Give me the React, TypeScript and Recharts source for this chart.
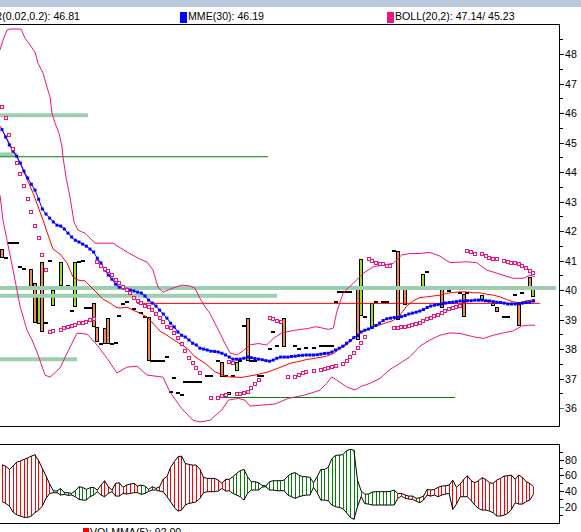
import React from "react";
import { ComposedChart, Line, Bar, Scatter, XAxis, YAxis, Cell } from "recharts";

// ---- daily price series (day index 0..145) ----
const opens: (number | null)[] = [
  41.39, 41.08, 41.59, 41.59, 41.59, 40.77, 40.73, 40.08, 40.70, 40.23,
  38.87, 40.94, 38.90, 40.99, 39.49, null, 40.11, 40.11, 40.15, 39.30,
  39.40, 40.96, 40.98, 39.39, 39.39, 39.56, 38.75, 38.17, 38.71, 39.05,
  38.17, 38.20, 39.07, 39.54, 39.60, null, 39.35, null, 39.19, 39.10,
  39.08, 37.59, 37.59, 37.59, 37.59, 37.73, 36.54, 37.02, 36.51, 36.44,
  36.89, 36.89, 36.89, 36.89, 36.89, null, 37.10, 37.10, null, 37.60,
  37.56, 37.10, 36.56, 37.10, 37.23, 37.60, 38.79, 39.06, 37.60, 37.60,
  37.10, 37.10, null, 38.02, 38.59, 38.10, null, 39.05, null, null,
  38.11, 38.00, null, 38.03, null, 38.06, null, 38.11, 38.11, 38.11,
  38.11, 39.60, 39.94, 39.94, 39.94, 39.94, 40.08, 40.03, 39.10, 39.10,
  null, 38.70, 39.60, null, 39.60, 39.60, 40.08, 41.33, 41.33, null,
  40.03, 40.06, 40.06, 40.06, null, 40.06, 40.60, 40.06, null, 40.06,
  40.03, null, 39.98, 40.06, 40.06, 39.91, 39.86, 39.91, 40.06, null,
  null, 39.66, 39.63, 39.63, 39.57, 39.43, null, 39.10, 39.10, null,
  39.83, 39.55, 39.91, 40.06, 40.43, 39.77,
];

const closes: (number | null)[] = [
  41.08, 41.08, 41.59, 41.59, 41.59, 40.77, 40.73, 40.08, 40.08, 38.87,
  39.85, 38.57, 38.90, 40.99, 40.02, null, 40.94, 40.11, 40.15, 39.30,
  40.94, 40.96, 40.98, 39.39, 39.39, 38.75, 38.24, 38.17, 38.17, 38.17,
  38.17, 38.20, 39.15, 39.54, 39.60, null, 39.35, null, 39.26, 39.10,
  37.59, 37.59, 37.59, 37.59, 37.59, 37.73, 36.54, 37.02, 36.51, 36.44,
  36.89, 36.89, 36.89, 36.89, 36.89, null, 37.10, 37.10, null, 37.60,
  37.05, 37.10, 36.47, 37.10, 37.55, 37.60, 38.79, 37.59, 37.60, 37.60,
  37.10, 37.10, null, 38.02, 38.59, 38.10, null, 38.08, null, null,
  38.11, 38.00, null, 38.03, null, 37.99, null, 38.11, 38.11, 38.11,
  38.11, 39.60, 39.94, 39.94, 39.94, 39.94, 40.08, 38.30, 41.04, 39.10,
  null, 39.55, 39.60, null, 39.60, 39.60, 40.08, 41.33, 38.98, null,
  39.49, 40.06, 40.06, 40.06, null, 40.54, 40.60, 40.06, null, 40.06,
  39.38, null, 39.98, 40.06, 40.06, 39.91, 39.07, 39.91, 40.06, null,
  null, 39.83, 39.63, 39.63, 39.46, 39.26, null, 39.10, 39.10, null,
  39.83, 38.78, 39.91, 40.06, 40.06, 40.03,
];

// SAR(0.02,0.2)
const sarValues: (number | null)[] = [
  46.20, 45.83, 45.25, 44.78, 44.31, 43.93, 43.53, 43.08, 42.64, 42.17,
  41.76, 41.19, 40.68, 38.58, 38.63, null, 38.64, 38.70, 38.74, 38.78,
  38.81, 38.87, 38.90, 38.93, 38.97, 39.02, 40.95, 40.81, 40.73, 40.64,
  40.51, 40.34, 40.24, 40.10, 40.00, 39.90, 39.73, 39.64, 39.56, 39.46,
  39.42, 39.32, 39.19, 39.05, 38.92, 38.75, 38.71, 38.54, 38.37, 38.17,
  37.93, 37.69, 37.53, 37.35, 37.20, null, null, 36.35, null, 36.35,
  36.41, 36.44, 37.55, 37.52, 36.47, 36.47, 36.52, 36.55, 36.67, 36.81,
  36.95, null, null, 39.05, 39.02, 38.95, 38.92, null, 37.04, null,
  37.05, 37.12, 37.19, 37.22, null, 37.25, null, 37.29, 37.32, 37.36,
  37.39, 37.42, null, 37.49, 37.59, 37.73, 37.86, 38.03, 38.20, 38.41,
  41.04, 40.99, 40.93, 40.90, 40.87, 40.82, 40.82, 38.70, 38.72, 38.74,
  38.76, 38.78, 38.81, 38.84, 38.89, 38.96, 39.02, 39.07, 39.13, 39.15,
  39.23, 39.30, 39.36, 39.40, 39.43, 39.46, null, 41.33, 41.28, 41.24,
  null, 41.21, 41.15, 41.09, 41.05, 41.04, null, 40.99, 40.94, 40.92,
  40.91, 40.87, 40.82, 40.76, 40.65, 40.57,
];

// MME(30)
const mmeValues: number[] = [
  45.44, 45.19, 44.92, 44.71, 44.54, 44.31, 44.03, 43.80, 43.59, 43.39,
  43.08, 42.75, 42.58, 42.44, 42.31, 42.20, 42.17, 42.07, 41.93, 41.80,
  41.69, 41.63, 41.56, 41.49, 41.39, 41.29, 41.08, 40.92, 40.68, 40.51,
  40.37, 40.20, 40.10, 40.07, 40.03, 40.00, 39.97, 39.93, 39.90, 39.80,
  39.66, 39.56, 39.46, 39.32, 39.19, 39.05, 38.88, 38.75, 38.58, 38.47,
  38.41, 38.31, 38.20, 38.14, 38.03, 38.00, 37.97, 37.93, 37.92, 37.90,
  37.86, 37.80, 37.73, 37.66, 37.66, 37.66, 37.69, 37.73, 37.71, 37.68,
  37.66, 37.64, 37.61, 37.59, 37.63, 37.69, 37.73, 37.73, 37.73, 37.75,
  37.76, 37.78, 37.79, 37.80, 37.80, 37.80, 37.81, 37.83, 37.85, 37.86,
  37.90, 37.97, 38.03, 38.10, 38.20, 38.29, 38.39, 38.46, 38.58, 38.64,
  38.68, 38.73, 38.80, 38.88, 38.97, 39.03, 39.05, 39.07, 39.08, 39.10,
  39.14, 39.19, 39.22, 39.25, 39.29, 39.34, 39.41, 39.46, 39.49, 39.51,
  39.53, 39.56, 39.58, 39.59, 39.61, 39.63, 39.63, 39.64, 39.64, 39.66,
  39.66, 39.66, 39.64, 39.63, 39.61, 39.59, 39.58, 39.56, 39.53, 39.53,
  39.53, 39.54, 39.56, 39.58, 39.59, 39.63,
];

// short moving average (red), vertices as [day, value]
const maPoints: [number, number][] = [
  [-0.55, 45.56], [4.91, 44.31], [8.46, 43.29], [11.19, 42.37], [12.28, 41.97],
  [13.92, 41.39], [15.83, 41.22], [17.74, 40.92], [19.37, 40.44], [20.74, 40.34],
  [22.65, 40.31], [24.01, 40.14], [25.92, 39.9], [27.56, 39.69], [29.47, 39.56],
  [31.11, 39.42], [32.2, 39.39], [34.11, 39.42], [35.74, 39.32], [37.65, 39.22],
  [39.56, 39.08], [41.2, 38.88], [43.11, 38.61], [45.02, 38.47], [47.75, 38.24],
  [50.48, 38.03], [52.66, 37.74], [55.39, 37.52], [58.12, 37.23], [61.75, 37.06],
  [65.4, 37.04], [69.03, 37.12], [72.66, 37.23], [76.32, 37.4], [78.58, 37.52],
  [81.31, 37.59], [83.14, 37.65], [84.94, 37.68], [86.77, 37.72], [88.59, 37.76],
  [90.39, 37.85], [92.22, 38.02], [94.05, 38.14], [95.85, 38.36], [97.68, 38.58],
  [101.31, 38.75], [104.04, 38.86], [106.77, 38.97], [108.6, 39.15], [110.42, 39.46],
  [112.22, 39.64], [114.05, 39.75], [115.88, 39.77], [117.68, 39.8], [119.5, 39.83],
  [121.34, 39.89], [123.14, 39.92], [124.97, 39.94], [126.79, 39.94], [128.6, 39.91],
  [130.42, 39.91], [132.25, 39.86], [134.05, 39.83], [135.88, 39.77], [137.71, 39.68],
  [139.51, 39.6], [141.34, 39.57], [143.17, 39.64], [145.43, 39.68],
];

// BOLL(20,2) upper band
const bollUpper: [number, number][] = [
  [-0.55, 48.14], [0.27, 48.47], [1.36, 48.81], [2.18, 48.85], [5.18, 48.85],
  [6.28, 48.54], [7.64, 48.31], [9.0, 48.07], [9.82, 47.69], [11.19, 47.36],
  [12.28, 46.88], [13.1, 46.54], [13.64, 46.0], [14.46, 45.66], [15.55, 45.32],
  [16.37, 44.85], [16.64, 44.51], [17.46, 43.83], [18.55, 43.15], [19.65, 42.31],
  [20.74, 42.03], [22.65, 41.93], [25.38, 41.59], [30.29, 41.59], [34.11, 41.29],
  [37.65, 41.05], [39.56, 40.95], [41.2, 40.68], [42.56, 40.1], [43.93, 39.93],
  [46.66, 40.07], [49.11, 40.17], [51.3, 40.14], [52.66, 40.06], [54.02, 39.72],
  [55.39, 39.43], [56.75, 39.21], [58.12, 38.87], [59.48, 38.54], [60.85, 38.19],
  [62.21, 37.87], [64.04, 37.8], [65.4, 37.91], [67.67, 38.14], [69.93, 38.19],
  [72.22, 38.14], [74.02, 38.36], [76.32, 38.55], [79.95, 38.64], [83.57, 38.7],
  [85.4, 38.76], [87.23, 38.72], [89.03, 38.67], [90.4, 38.71], [91.32, 39.25],
  [92.22, 39.59], [93.12, 39.9], [94.05, 40.03], [95.85, 40.23], [98.58, 40.57],
  [101.31, 40.79], [104.04, 40.85], [106.77, 40.91], [109.06, 41.19], [111.32, 41.24],
  [114.05, 41.24], [116.78, 41.28], [119.51, 41.15], [122.24, 40.93], [126.79, 40.96],
  [129.52, 40.93], [132.25, 40.68], [135.88, 40.54], [139.51, 40.4], [142.24, 40.4],
  [144.06, 40.51], [145.43, 40.45],
];

// BOLL(20,2) lower band
const bollLower: [number, number][] = [
  [-0.55, 43.22], [0.27, 42.37], [1.36, 41.69], [2.73, 40.85], [3.82, 40.17],
  [4.91, 39.46], [6.82, 38.64], [8.19, 38.31], [9.55, 37.9], [11.73, 37.12],
  [13.1, 37.05], [15.83, 37.36], [17.74, 37.86], [20.46, 38.54], [23.19, 38.51],
  [25.92, 38.14], [28.65, 37.69], [31.38, 37.19], [34.11, 37.39], [36.83, 37.42],
  [39.56, 37.12], [43.93, 37.05], [45.84, 36.54], [49.11, 35.97], [52.11, 35.59],
  [54.02, 35.53], [56.75, 35.59], [59.95, 35.93], [61.75, 36.27], [64.48, 36.33],
  [66.3, 36.27], [67.67, 36.07], [70.86, 36.1], [74.49, 36.14], [78.12, 36.33],
  [83.14, 36.46], [86.77, 36.61], [88.59, 36.84], [89.96, 37.06], [91.32, 36.95],
  [94.05, 36.72], [96.32, 36.61], [97.68, 36.72], [100.41, 36.84], [103.14, 37.01],
  [105.87, 37.31], [108.6, 37.52], [111.32, 37.74], [114.05, 38.1], [116.78, 38.31],
  [119.51, 38.47], [122.24, 38.55], [124.97, 38.53], [128.6, 38.42], [131.32, 38.36],
  [134.05, 38.47], [136.79, 38.55], [139.51, 38.62], [141.8, 38.78], [143.6, 38.81],
  [145.43, 38.81],
];

// horizontal levels: [level, from day, to day]
const supportBands: [number, number, number][] = [
  [45.93, -0.55, 23.46],
  [44.6, -0.55, 4.09],
  [40.07, -0.55, 151.17],
  [39.81, -0.55, 75.03],
  [37.66, -0.55, 20.46],
];
const greenLevels: [number, number, number][] = [
  [44.52, -0.55, 72.58],
  [36.36, 59.48, 123.6],
];
const redLevels: [number, number, number][] = [[39.55, 36.83, 146.8]];

// volume envelope (upper / lower edge) and hatch colour runs
const volHigh: number[] = [
  73.5, 71.8, 67.6, 71.8, 76.9, 78.2, 80.3, 82.0, 84.6, 86.3,
  78.6, 68.9, 59.1, 48.9, 40.4, 40.0, 43.4, 37.9, 37.9, 37.0,
  40.4, 45.5, 44.7, 42.1, 44.2, 44.7, 41.3, 47.6, 53.2, 45.5,
  41.3, 49.8, 50.6, 44.7, 47.6, 48.9, 49.8, 46.4, 47.6, 46.4,
  42.1, 45.5, 43.4, 45.5, 55.3, 58.3, 70.2, 77.4, 83.7, 84.6,
  75.2, 74.0, 73.1, 73.1, 67.6, 57.4, 56.1, 56.1, 56.1, 54.0,
  49.8, 54.9, 54.9, 58.3, 62.5, 65.9, 67.6, 58.3, 51.9, 51.9,
  50.6, 47.2, 46.4, 51.9, 53.2, 53.2, 53.2, 54.0, 59.1, 62.5,
  63.4, 60.4, 58.3, 58.3, 57.4, 50.6, 58.3, 67.6, 67.6, 70.2,
  81.2, 85.4, 85.9, 86.3, 91.4, 93.1, 92.2, 54.0, 40.0, 36.0,
  36.2, 38.7, 39.2, 39.2, 39.2, 39.2, 39.6, 41.3, 37.0, 37.0,
  34.9, 33.6, 33.6, 30.7, 31.5, 33.6, 42.1, 41.3, 42.1, 44.7,
  46.4, 46.8, 47.6, 54.0, 44.7, 48.9, 54.9, 59.5, 53.2, 50.6,
  53.2, 57.0, 54.9, 50.6, 49.8, 54.0, 56.1, 59.1, 59.5, 60.4,
  54.9, 60.4, 57.4, 51.9, 49.8, 45.5,
];
const volLow: number[] = [
  26.8, 24.3, 20.9, 13.2, 9.8, 8.2, 6.5, 6.5, 8.2, 12.4,
  15.8, 20.9, 30.7, 37.0, 37.9, 37.9, 34.9, 35.8, 34.5, 34.9,
  32.8, 29.4, 28.5, 28.5, 32.8, 34.9, 39.2, 34.9, 32.8, 37.0,
  39.2, 33.6, 33.6, 37.0, 36.2, 37.0, 37.9, 37.9, 35.8, 37.0,
  39.6, 41.3, 41.3, 40.0, 39.2, 32.8, 26.4, 19.2, 14.5, 15.8,
  22.2, 24.3, 25.1, 26.4, 30.7, 37.9, 39.2, 39.2, 39.2, 40.0,
  43.4, 40.0, 40.4, 37.0, 34.9, 32.8, 28.5, 37.0, 41.3, 41.3,
  41.3, 45.1, 45.5, 41.3, 41.3, 40.4, 40.4, 40.4, 34.9, 32.8,
  30.7, 32.8, 34.0, 34.9, 34.9, 44.7, 37.9, 28.5, 28.5, 27.7,
  22.2, 20.0, 19.2, 17.5, 12.4, 6.5, 3.9, 20.0, 33.0, 24.0,
  23.4, 22.2, 22.2, 22.2, 22.2, 22.2, 22.2, 22.2, 30.7, 33.6,
  30.7, 29.8, 29.4, 27.3, 25.1, 28.5, 34.9, 33.6, 34.9, 32.8,
  34.9, 36.2, 37.0, 16.6, 23.4, 32.8, 32.8, 32.8, 27.7, 22.2,
  17.9, 15.8, 15.8, 14.5, 12.4, 8.2, 8.2, 9.4, 11.5, 16.6,
  25.1, 23.4, 23.4, 26.4, 28.5, 35.8,
];
const volColorRuns: ["r" | "g", number][] = [
  ["r", 14], ["g", 13], ["r", 11], ["g", 5], ["r", 20],
  ["g", 45], ["r", 6], ["g", 1], ["r", 31],
];

const priceTicks = [36, 36.5, 37, 37.5, 38, 38.5, 39, 39.5, 40, 40.5, 41, 41.5, 42, 42.5,
  43, 43.5, 44, 44.5, 45, 45.5, 46, 46.5, 47, 47.5, 48, 48.5];
const volTicks = [10, 20, 30, 40, 50, 60, 70, 80, 90];

// ---- styles ----
const FONT = "Arial, 'Liberation Sans', sans-serif";
const PINK = "#f0147f";
const BLUE = "#0000ff";
const ORANGE = "#f28b4c";
const LIME = "#94e41c";
const BAND = "#9dceb0";
const DKGREEN = "#008000";
const TEAL = "#009090";
const CANDLE_W = 4;
const X_DOMAIN: [number, number] = [-0.55, 152.25];

// ---- derived tables ----
const days = opens.map((o, i) => ({
  day: i,
  open: o,
  close: closes[i],
  mme: mmeValues[i],
}));
const sarData = sarValues
  .map((v, i) => ({ day: i, sar: v }))
  .filter((d) => d.sar != null);
const toSeries = (pts: [number, number][]) => pts.map(([day, v]) => ({ day, v }));
const levelSeries = (lv: [number, number, number]) => [
  { day: lv[1], v: lv[0] },
  { day: lv[2], v: lv[0] },
];
const volColors: string[] = volColorRuns.flatMap(([c, n]) => Array(n).fill(c));
const vol = volHigh.map((h, i) => ({ day: i, hi: h, lo: volLow[i], c: volColors[i] }));

// ---- custom marks ----
const CandleShape = (p: any) => {
  const { x, y, width, height, payload } = p;
  if (payload == null || payload.open == null || payload.close == null) return null;
  if (x == null || y == null || isNaN(x) || isNaN(y)) return null;
  const top = Math.min(y, y + height);
  const h = Math.abs(height);
  const left = Math.round(x + width / 2 - CANDLE_W / 2);
  if (payload.open === payload.close) {
    return <rect x={left} y={Math.round(top) - 1} width={CANDLE_W} height={2} fill="#000" />;
  }
  const up = payload.close > payload.open;
  return (
    <rect x={left + 0.5} y={Math.round(top) + 0.5} width={CANDLE_W - 1} height={Math.max(Math.round(h) - 1, 1)}
      fill={up ? LIME : ORANGE} stroke="#000" strokeWidth={1} />
  );
};

const SarShape = (p: any) =>
  p.cx == null || p.cy == null ? null : (
    <rect x={Math.round(p.cx) - 1.5} y={Math.round(p.cy) - 1.5} width={3} height={3} fill="#fff" stroke={PINK} strokeWidth={1} />
  );

const MmeDot = (p: any) =>
  p.cx == null || p.cy == null ? null : (
    <rect key={p.index} x={p.cx - 1.5} y={p.cy - 1.5} width={3} height={3} fill={BLUE} />
  );

const HatchShape = (p: any) => {
  const { x, y, width, height, payload } = p;
  const cx = Math.round(x + width / 2) + 0.5;
  return (
    <line x1={cx} x2={cx} y1={y} y2={y + height}
      stroke={payload.c === "g" ? DKGREEN : "#ff0000"} strokeWidth={1} />
  );
};

const makeTick = (labelled: (v: number) => boolean, tealAt: number) => (p: any) => {
  const v = p.payload.value;
  const major = labelled(v);
  const yy = Math.round(p.y) + 0.5;
  return (
    <g>
      <line x1={p.x} x2={p.x + (major ? 4 : 3)} y1={yy} y2={yy} stroke={v === tealAt ? TEAL : "#000"} />
      {major && (
        <text x={p.x + 5} y={p.y} dy={4} fontSize={10.6} fontFamily={FONT} fill="#000">
          {v}
        </text>
      )}
    </g>
  );
};
const PriceTick = makeTick((v) => Number.isInteger(v), 36);
const VolTick = makeTick((v) => v % 20 === 0, 20);

export default function App() {
  return (
    <div style={{ position: "absolute", left: 0, top: 0, width: 581, height: 532, overflow: "hidden", background: "#fff" }}>
      <div style={{ position: "absolute", left: 0, top: 0 }}>
        <ComposedChart width={581} height={432} data={days} margin={{ top: 24, right: 0, bottom: 5, left: 0 }}>
          <XAxis type="number" dataKey="day" domain={X_DOMAIN} hide allowDataOverflow />
          <YAxis orientation="right" width={21} domain={[35.36, 49.02]} ticks={priceTicks} interval={0}
            allowDataOverflow axisLine={false} tickLine={false} tickSize={0} tickMargin={0} tick={PriceTick} />
          {supportBands.map((b, i) => (
            <Line key={"band" + i} data={levelSeries(b)} dataKey="v" stroke={BAND} strokeWidth={4}
              dot={false} isAnimationActive={false} strokeLinecap="butt" />
          ))}
          {greenLevels.map((b, i) => (
            <Line key={"gl" + i} data={levelSeries(b)} dataKey="v" stroke={DKGREEN} strokeWidth={1}
              dot={false} isAnimationActive={false} />
          ))}
          {redLevels.map((b, i) => (
            <Line key={"rl" + i} data={levelSeries(b)} dataKey="v" stroke="#ff0000" strokeWidth={1}
              dot={false} isAnimationActive={false} />
          ))}
          <Line data={toSeries(bollUpper)} dataKey="v" stroke={PINK} strokeWidth={1} dot={false} isAnimationActive={false} />
          <Line data={toSeries(bollLower)} dataKey="v" stroke={PINK} strokeWidth={1} dot={false} isAnimationActive={false} />
          <Line data={toSeries(maPoints)} dataKey="v" stroke="#ff0000" strokeWidth={1} dot={false} isAnimationActive={false} />
          <Line dataKey="mme" stroke={BLUE} strokeWidth={1} dot={MmeDot} isAnimationActive={false} />
          <Scatter data={sarData} dataKey="sar" shape={SarShape} isAnimationActive={false} />
          <Bar dataKey={(d: any) => (d.open == null || d.close == null ? null : [Math.min(d.open, d.close), Math.max(d.open, d.close)])}
            barSize={4} shape={CandleShape} isAnimationActive={false} />
        </ComposedChart>
      </div>

      <div style={{ position: "absolute", left: 0, top: 440 }}>
        <ComposedChart width={581} height={90} data={vol} margin={{ top: 4, right: 0, bottom: 6, left: 0 }}>
          <XAxis type="number" dataKey="day" domain={X_DOMAIN} hide allowDataOverflow />
          <YAxis orientation="right" width={21} domain={[-2, 100]} ticks={volTicks} interval={0}
            allowDataOverflow axisLine={false} tickLine={false} tickSize={0} tickMargin={0} tick={VolTick} />
          <Bar dataKey={(d: any) => [d.lo, d.hi]} barSize={1} shape={HatchShape} isAnimationActive={false}>
            {vol.map((d, i) => (
              <Cell key={i} fill={d.c === "g" ? DKGREEN : "#ff0000"} />
            ))}
          </Bar>
          <Line dataKey="hi" stroke="#000" strokeWidth={1} dot={false} isAnimationActive={false} />
          <Line dataKey="lo" stroke="#000" strokeWidth={1} dot={false} isAnimationActive={false} />
        </ComposedChart>
      </div>

      <svg width={581} height={532} style={{ position: "absolute", left: 0, top: 0, pointerEvents: "none" }}>
        <rect x={0} y={0} width={581} height={7} fill="#b9c9db" />
        <path d="M0 24.5 H559.5 V426.5 H0" fill="none" stroke="#000" strokeWidth={1} />
        <path d="M0 444.5 H559.5 V523.5 H0" fill="none" stroke="#000" strokeWidth={1} />
        <g fontFamily={FONT} fontSize={10.6} fill="#000">
          <text x={80} y={20} textAnchor="end">SAR(0.02,0.2): 46.81</text>
          <rect x={180} y={12} width={7} height={11} fill={BLUE} />
          <text x={188} y={20}>MME(30): 46.19</text>
          <rect x={387} y={12} width={7} height={11} fill={PINK} />
          <text x={395} y={20}>BOLL(20,2): 47.14/ 45.23</text>
          <rect x={83} y={528} width={6} height={8} fill="#ff0000" />
          <text x={90} y={536}>VOLMMA(5): 92.00</text>
        </g>
      </svg>
    </div>
  );
}
